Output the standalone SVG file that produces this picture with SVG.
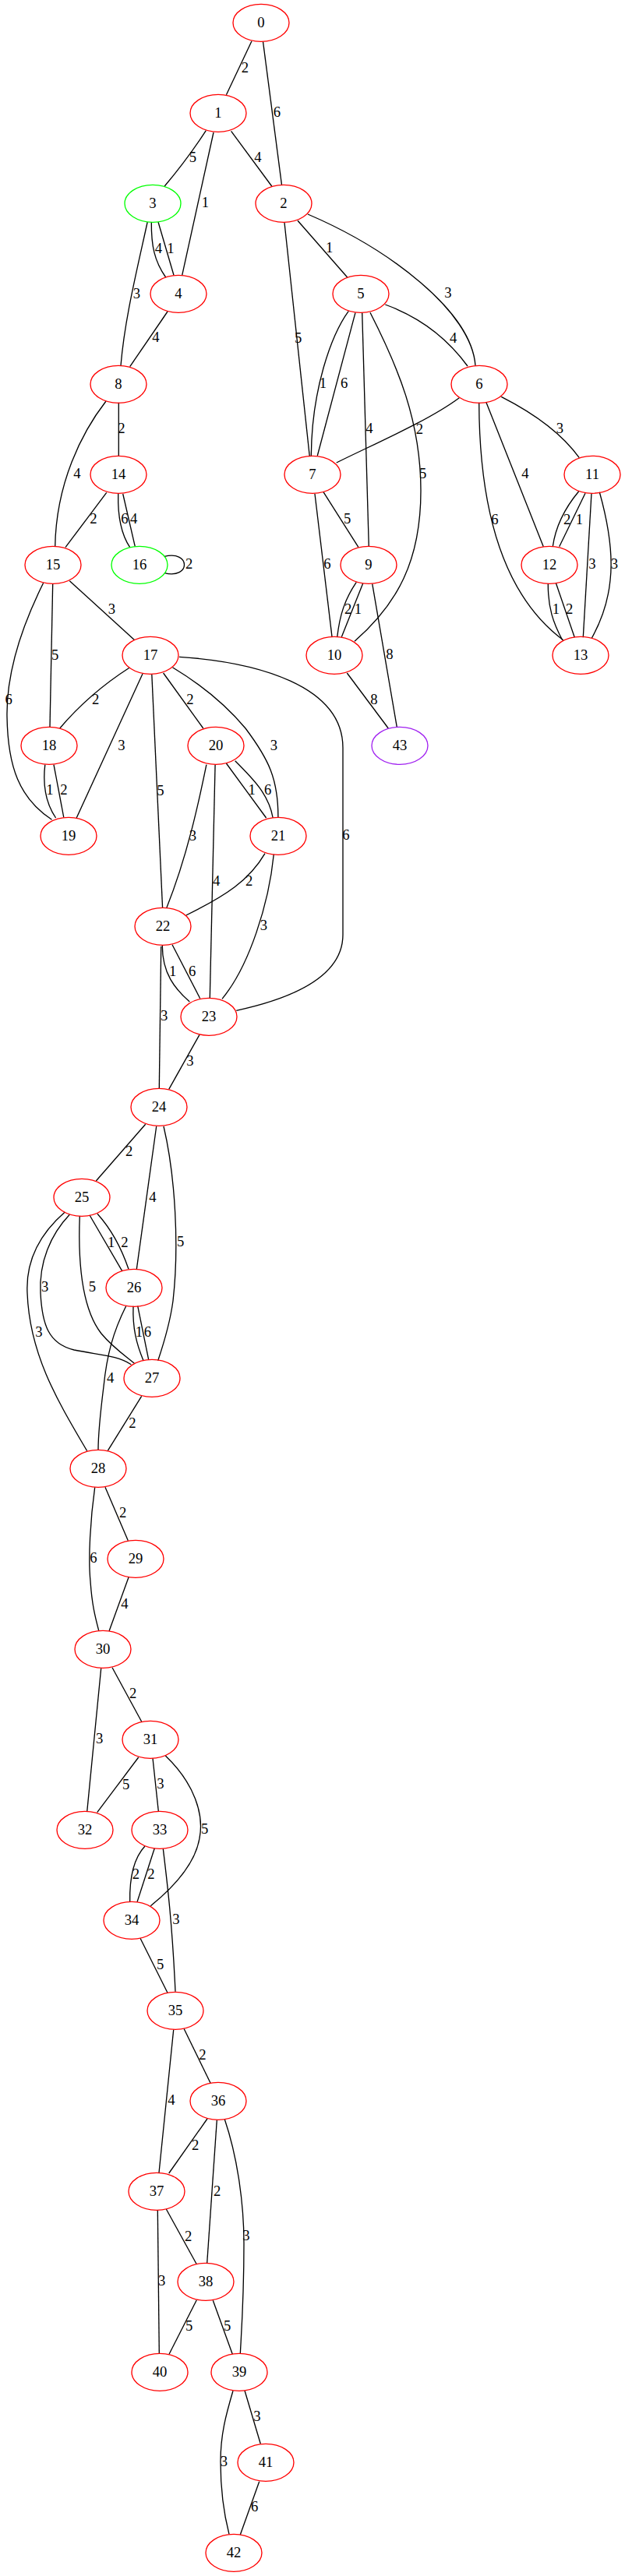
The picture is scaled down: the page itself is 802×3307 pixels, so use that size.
<svg xmlns="http://www.w3.org/2000/svg" width="802" height="3307" viewBox="0 0 802 3307">
<style>
.n ellipse{fill:none;stroke-width:1.33}
.r ellipse{stroke:#ff0000}
.g ellipse{stroke:#00ff00}
.p ellipse{stroke:#a020f0}
text{font-family:"Liberation Serif","Times New Roman",serif;font-size:18.67px;text-anchor:middle;fill:#000}
#edges path{fill:none;stroke:#000;stroke-width:1.33}
</style>
<rect x="0" y="0" width="802" height="3307" fill="#fff"/>
<g id="edges">
<g id="e0_1"><path d="M323,52.7 L290.4,121.7"/><text x="314.5" y="92.7">2</text></g>
<g id="e0_2"><path d="M337.5,53.3 L361.5,237.3"/><text x="355.4" y="150.3">6</text></g>
<g id="e1_3"><path d="M264.3,167.7 Q240,205 211.2,239"/><text x="247.5" y="208.3">5</text></g>
<g id="e1_4"><path d="M274,170 L233.7,353.3"/><text x="263.3" y="266">1</text></g>
<g id="e1_2"><path d="M296.6,168.3 L348.7,239"/><text x="330.8" y="208.3">4</text></g>
<g id="e3_4a"><path d="M194.3,285 C194,315 198,335 212.7,356"/><text x="203.5" y="325">4</text></g>
<g id="e3_4b"><path d="M203,285 L223,353.3"/><text x="218.8" y="325">1</text></g>
<g id="e3_8"><path d="M189.2,285 C175,350 160,410 155,469.3"/><text x="175.4" y="382.7">3</text></g>
<g id="e2_7"><path d="M365,285.7 L397.3,586"/><text x="382.7" y="440">5</text></g>
<g id="e2_5"><path d="M382,283.3 L445.7,356"/><text x="422.7" y="324.3">1</text></g>
<g id="e2_6"><path d="M395,275 C500,320 605,400 610,469.3"/><text x="575" y="382">3</text></g>
<g id="e4_8"><path d="M215,400 L166.7,470.7"/><text x="200" y="439.3">4</text></g>
<g id="e5_7a"><path d="M447.3,399.3 C425,430 400,500 399.3,585"/><text x="414.3" y="498.3">1</text></g>
<g id="e5_7b"><path d="M456,401.3 L407.3,585"/><text x="441.7" y="498.3">6</text></g>
<g id="e5_9"><path d="M464.7,401.3 L473.3,701.7"/><text x="474" y="556">4</text></g>
<g id="e5_10"><path d="M475,401.3 C510,470 540,540 540,630 C540,720 510,775 455,823.3"/><text x="542.7" y="614.3">5</text></g>
<g id="e5_6"><path d="M494.3,391 Q560,415 600,470"/><text x="581.7" y="440">4</text></g>
<g id="e6_7"><path d="M589.3,510.7 C550,540 480,570 431.7,594"/><text x="538.3" y="556.7">2</text></g>
<g id="e6_11"><path d="M643.3,509.3 C680,528 720,555 743.3,587.7"/><text x="718.3" y="556">3</text></g>
<g id="e6_12"><path d="M624,516.7 L697.3,701.7"/><text x="674" y="614.3">4</text></g>
<g id="e6_13"><path d="M614.7,516.7 C615,640 640,760 722.7,821.7"/><text x="635" y="672.7">6</text></g>
<g id="e7_9"><path d="M415,631.7 L460,702.7"/><text x="445.7" y="672">5</text></g>
<g id="e7_10"><path d="M404,634 L426,817.3"/><text x="420" y="730">6</text></g>
<g id="e9_10a"><path d="M457.3,747.3 C442,770 436,790 432.7,817.7"/><text x="446.7" y="787.7">2</text></g>
<g id="e9_10b"><path d="M465.7,749 L438.3,817.7"/><text x="459.3" y="787.7">1</text></g>
<g id="e9_43"><path d="M477.7,749.3 L509.3,933.3"/><text x="500" y="846">8</text></g>
<g id="e10_43"><path d="M445.3,864 L498.3,935"/><text x="480" y="904.3">8</text></g>
<g id="e11_12a"><path d="M742.7,630.7 C725,652 713,675 709.3,701.7"/><text x="727.7" y="672.7">2</text></g>
<g id="e11_12b"><path d="M751,633.3 L717.7,701.7"/><text x="743.3" y="672.7">1</text></g>
<g id="e11_13a"><path d="M759,633.3 L748.3,818.3"/><text x="760" y="730">3</text></g>
<g id="e11_13b"><path d="M769.3,631.7 C780,670 787,710 783,745 C780,775 770,800 759.3,819.3"/><text x="788.3" y="730">3</text></g>
<g id="e12_13a"><path d="M703.3,749 C703,780 710,800 721.7,821.7"/><text x="713.3" y="787.7">1</text></g>
<g id="e12_13b"><path d="M713.3,748.3 L737.3,818.3"/><text x="730.7" y="787.7">2</text></g>
<g id="e8_14"><path d="M152.3,516.7 L152.3,585"/><text x="156" y="556">2</text></g>
<g id="e8_15"><path d="M136,515 C105,555 72,620 70.7,701.7"/><text x="99" y="614.3">4</text></g>
<g id="e14_15"><path d="M136.7,632.3 L84,702.7"/><text x="120" y="672">2</text></g>
<g id="e14_16a"><path d="M151.7,634 C151,660 155,685 166.7,702.7"/><text x="160" y="672">6</text></g>
<g id="e14_16b"><path d="M157.7,634 L173.3,701.7"/><text x="171.7" y="672">4</text></g>
<g id="e16_16"><path d="M211,714.3 C245,706 245,744 211,735.7"/><text x="242.7" y="730.3">2</text></g>
<g id="e15_17"><path d="M89.3,745.7 L172.7,821.7"/><text x="143.3" y="787.7">3</text></g>
<g id="e15_18"><path d="M67.7,749.3 L64,933.3"/><text x="70.6" y="846.7">5</text></g>
<g id="e15_19"><path d="M55.7,748.3 C30,800 8,860 9,920 C10,985 25,1025 66.5,1052.3"/><text x="11.2" y="904.3">6</text></g>
<g id="e17_18"><path d="M166,857.3 Q115,890 76.7,935"/><text x="122.7" y="904.3">2</text></g>
<g id="e17_19"><path d="M183,865 L98.2,1050"/><text x="156" y="962.7">3</text></g>
<g id="e17_22"><path d="M194.8,865.7 L208.6,1165.7"/><text x="206" y="1021">5</text></g>
<g id="e17_20"><path d="M209.6,864 L260.8,935"/><text x="243.9" y="904.3">2</text></g>
<g id="e17_21"><path d="M221.4,856.7 C260,880 290,905 315,935 C345,975 357,1000 356.9,1049.3"/><text x="351.3" y="962.7">3</text></g>
<g id="e17_23"><path d="M230,843.3 C330,850 440,880 440,960 L440,1200 C440,1260 360,1285 303.3,1297.3"/><text x="443.8" y="1078.3">6</text></g>
<g id="e18_19a"><path d="M57.8,981.7 C55,1005 58,1030 71.6,1050"/><text x="63.9" y="1020.3">1</text></g>
<g id="e18_19b"><path d="M69,981.7 L81.8,1049.3"/><text x="81.8" y="1020.3">2</text></g>
<g id="e20_22"><path d="M264.9,981.7 C255,1030 240,1100 213.7,1165.7"/><text x="247.5" y="1078.7">3</text></g>
<g id="e20_23"><path d="M276.1,981.7 L269.3,1281"/><text x="277.6" y="1137">4</text></g>
<g id="e20_21a"><path d="M290.4,980 L341.6,1050"/><text x="323.2" y="1020.3">1</text></g>
<g id="e20_21b"><path d="M301.7,976.7 C325,1000 345,1020 350.2,1050"/><text x="343.6" y="1020.3">6</text></g>
<g id="e21_22"><path d="M340,1095.7 C320,1130 290,1150 238.8,1175"/><text x="319.6" y="1137">2</text></g>
<g id="e21_23"><path d="M351.3,1096.7 C345,1160 320,1240 285,1282.3"/><text x="338.5" y="1193.7">3</text></g>
<g id="e22_23a"><path d="M208.3,1213.3 C208,1250 225,1270 243.3,1286"/><text x="221.7" y="1252.7">1</text></g>
<g id="e22_23b"><path d="M221,1212.7 L256.7,1281.7"/><text x="246.7" y="1252.7">6</text></g>
<g id="e22_24"><path d="M206.7,1215 L204.3,1397.7"/><text x="210.7" y="1310.3">3</text></g>
<g id="e23_24"><path d="M256,1328.3 L216.7,1398.3"/><text x="244" y="1368.3">3</text></g>
<g id="e24_25"><path d="M186.7,1443.3 L123.3,1516"/><text x="165.7" y="1484.3">2</text></g>
<g id="e24_26"><path d="M200.7,1446 L175.3,1629.3"/><text x="196" y="1542.7">4</text></g>
<g id="e24_27"><path d="M210,1446 C225,1510 230,1600 222,1670 C218,1700 210,1725 202.7,1746.7"/><text x="231.7" y="1600.3">5</text></g>
<g id="e25_26a"><path d="M115,1560 L156.7,1631.7"/><text x="142.7" y="1601">1</text></g>
<g id="e25_26b"><path d="M125,1558.3 C140,1575 155,1600 165,1629.3"/><text x="160" y="1601">2</text></g>
<g id="e25_27a"><path d="M102.3,1561 C100,1620 105,1680 130,1712 C145,1730 160,1740 172.3,1750"/><text x="118.3" y="1658.3">5</text></g>
<g id="e25_27b"><path d="M89.3,1559.3 C65,1585 50,1620 52,1660 C54,1700 62,1725 95,1733 C130,1740 150,1740 168.3,1751.7"/><text x="57.7" y="1658.3">3</text></g>
<g id="e25_28"><path d="M83.3,1556 C50,1585 33,1620 35,1660 C38,1740 75,1800 111.7,1862.7"/><text x="50" y="1716">3</text></g>
<g id="e26_27a"><path d="M171,1676.7 C170,1705 175,1725 184,1746.7"/><text x="178.3" y="1716">1</text></g>
<g id="e26_27b"><path d="M176.7,1676.7 L190.7,1745.7"/><text x="189.3" y="1716">6</text></g>
<g id="e26_28"><path d="M161.7,1676.7 C145,1710 137,1740 133,1780 C128,1820 126,1840 126,1861.7"/><text x="141.7" y="1775">4</text></g>
<g id="e27_28"><path d="M181.7,1792.3 L138.3,1862.3"/><text x="170" y="1832.7">2</text></g>
<g id="e28_29"><path d="M135,1909.3 L164.3,1977.7"/><text x="157.7" y="1948.3">2</text></g>
<g id="e28_30"><path d="M121.7,1909.3 C116,1950 113,2000 116,2030 C118,2060 122,2075 126.7,2093.3"/><text x="120" y="2006">6</text></g>
<g id="e29_30"><path d="M165,2025 L140,2094"/><text x="160" y="2065">4</text></g>
<g id="e30_31"><path d="M144,2140.7 L182,2210.7"/><text x="170.7" y="2180">2</text></g>
<g id="e30_32"><path d="M129.7,2141.7 L111.7,2325.7"/><text x="127.7" y="2237.7">3</text></g>
<g id="e31_32"><path d="M177.7,2256 L124.7,2326.7"/><text x="161.7" y="2296.7">5</text></g>
<g id="e31_33"><path d="M196,2257.3 L203.3,2325"/><text x="206" y="2296">3</text></g>
<g id="e31_34"><path d="M212.3,2254 C250,2290 262,2330 256,2360 C250,2395 220,2425 193.3,2446.7"/><text x="262.7" y="2353.7">5</text></g>
<g id="e33_34a"><path d="M186,2370 C172,2385 166,2410 166.7,2441.7"/><text x="174.3" y="2412">2</text></g>
<g id="e33_34b"><path d="M198.3,2372.7 L176,2441.7"/><text x="194" y="2412">2</text></g>
<g id="e33_35"><path d="M209.3,2373.3 C215,2420 221,2470 225,2556.7"/><text x="226" y="2470">3</text></g>
<g id="e34_35"><path d="M180,2488.3 L215,2558.3"/><text x="205.7" y="2527.7">5</text></g>
<g id="e35_36"><path d="M236,2604.3 L270,2674"/><text x="260" y="2644.3">2</text></g>
<g id="e35_37"><path d="M222.7,2605.7 L204,2789.3"/><text x="220" y="2702">4</text></g>
<g id="e36_37"><path d="M266,2720 L216.7,2790"/><text x="250.7" y="2760.3">2</text></g>
<g id="e36_38"><path d="M278.3,2721.7 L265.7,2905"/><text x="278.7" y="2819.3">2</text></g>
<g id="e36_39"><path d="M288.3,2720.7 C305,2770 313,2830 313,2880 C313,2950 310,2990 308.3,3021.7"/><text x="316" y="2876">3</text></g>
<g id="e37_38"><path d="M213.3,2836 L252.3,2906.7"/><text x="241.7" y="2876.7">2</text></g>
<g id="e37_40"><path d="M202.3,2837.3 L204.3,3021.7"/><text x="207.7" y="2934.3">3</text></g>
<g id="e38_40"><path d="M252.3,2952.7 L217,3022.3"/><text x="242.7" y="2992">5</text></g>
<g id="e38_39"><path d="M273.3,2953.3 L298.3,3022.3"/><text x="291.7" y="2992">5</text></g>
<g id="e39_41"><path d="M314,3069 L334.3,3137.3"/><text x="330" y="3108.3">3</text></g>
<g id="e39_42"><path d="M299,3069.3 C290,3100 283,3125 283,3160 C283,3200 288,3230 294,3253.3"/><text x="287.3" y="3166">3</text></g>
<g id="e41_42"><path d="M332.7,3185.7 L308.3,3254"/><text x="326.7" y="3224.3">6</text></g>
</g>
<g id="nodes">
<g id="n0" class="n r"><ellipse cx="335" cy="29.3" rx="36" ry="24"/><text x="335" y="35.3">0</text></g>
<g id="n1" class="n r"><ellipse cx="280" cy="145.3" rx="36" ry="24"/><text x="280" y="151.3">1</text></g>
<g id="n2" class="n r"><ellipse cx="364" cy="261.3" rx="36" ry="24"/><text x="364" y="267.3">2</text></g>
<g id="n3" class="n g"><ellipse cx="196" cy="261.3" rx="36" ry="24"/><text x="196" y="267.3">3</text></g>
<g id="n4" class="n r"><ellipse cx="229" cy="377.3" rx="36" ry="24"/><text x="229" y="383.3">4</text></g>
<g id="n5" class="n r"><ellipse cx="463" cy="377.3" rx="36" ry="24"/><text x="463" y="383.3">5</text></g>
<g id="n6" class="n r"><ellipse cx="615" cy="493.3" rx="36" ry="24"/><text x="615" y="499.3">6</text></g>
<g id="n7" class="n r"><ellipse cx="401" cy="609.3" rx="36" ry="24"/><text x="401" y="615.3">7</text></g>
<g id="n8" class="n r"><ellipse cx="152" cy="493.3" rx="36" ry="24"/><text x="152" y="499.3">8</text></g>
<g id="n9" class="n r"><ellipse cx="473" cy="725.3" rx="36" ry="24"/><text x="473" y="731.3">9</text></g>
<g id="n10" class="n r"><ellipse cx="429" cy="841.3" rx="36" ry="24"/><text x="429" y="847.3">10</text></g>
<g id="n11" class="n r"><ellipse cx="760" cy="609.3" rx="36" ry="24"/><text x="760" y="615.3">11</text></g>
<g id="n12" class="n r"><ellipse cx="705" cy="725.3" rx="36" ry="24"/><text x="705" y="731.3">12</text></g>
<g id="n13" class="n r"><ellipse cx="745" cy="841.3" rx="36" ry="24"/><text x="745" y="847.3">13</text></g>
<g id="n14" class="n r"><ellipse cx="152" cy="609.3" rx="36" ry="24"/><text x="152" y="615.3">14</text></g>
<g id="n15" class="n r"><ellipse cx="68" cy="725.3" rx="36" ry="24"/><text x="68" y="731.3">15</text></g>
<g id="n16" class="n g"><ellipse cx="179" cy="725.3" rx="36" ry="24"/><text x="179" y="731.3">16</text></g>
<g id="n17" class="n r"><ellipse cx="193" cy="841.3" rx="36" ry="24"/><text x="193" y="847.3">17</text></g>
<g id="n18" class="n r"><ellipse cx="63" cy="957.3" rx="36" ry="24"/><text x="63" y="963.3">18</text></g>
<g id="n19" class="n r"><ellipse cx="88" cy="1073.3" rx="36" ry="24"/><text x="88" y="1079.3">19</text></g>
<g id="n20" class="n r"><ellipse cx="277" cy="957.3" rx="36" ry="24"/><text x="277" y="963.3">20</text></g>
<g id="n21" class="n r"><ellipse cx="357" cy="1073.3" rx="36" ry="24"/><text x="357" y="1079.3">21</text></g>
<g id="n22" class="n r"><ellipse cx="209" cy="1189.3" rx="36" ry="24"/><text x="209" y="1195.3">22</text></g>
<g id="n23" class="n r"><ellipse cx="268" cy="1305.3" rx="36" ry="24"/><text x="268" y="1311.3">23</text></g>
<g id="n24" class="n r"><ellipse cx="204" cy="1421.3" rx="36" ry="24"/><text x="204" y="1427.3">24</text></g>
<g id="n25" class="n r"><ellipse cx="105" cy="1537.3" rx="36" ry="24"/><text x="105" y="1543.3">25</text></g>
<g id="n26" class="n r"><ellipse cx="172" cy="1653.3" rx="36" ry="24"/><text x="172" y="1659.3">26</text></g>
<g id="n27" class="n r"><ellipse cx="195" cy="1769.3" rx="36" ry="24"/><text x="195" y="1775.3">27</text></g>
<g id="n28" class="n r"><ellipse cx="126" cy="1885.3" rx="36" ry="24"/><text x="126" y="1891.3">28</text></g>
<g id="n29" class="n r"><ellipse cx="174" cy="2001.3" rx="36" ry="24"/><text x="174" y="2007.3">29</text></g>
<g id="n30" class="n r"><ellipse cx="132" cy="2117.3" rx="36" ry="24"/><text x="132" y="2123.3">30</text></g>
<g id="n31" class="n r"><ellipse cx="193" cy="2233.3" rx="36" ry="24"/><text x="193" y="2239.3">31</text></g>
<g id="n32" class="n r"><ellipse cx="109" cy="2349.3" rx="36" ry="24"/><text x="109" y="2355.3">32</text></g>
<g id="n33" class="n r"><ellipse cx="205" cy="2349.3" rx="36" ry="24"/><text x="205" y="2355.3">33</text></g>
<g id="n34" class="n r"><ellipse cx="169" cy="2465.3" rx="36" ry="24"/><text x="169" y="2471.3">34</text></g>
<g id="n35" class="n r"><ellipse cx="225" cy="2581.3" rx="36" ry="24"/><text x="225" y="2587.3">35</text></g>
<g id="n36" class="n r"><ellipse cx="280" cy="2697.3" rx="36" ry="24"/><text x="280" y="2703.3">36</text></g>
<g id="n37" class="n r"><ellipse cx="201" cy="2813.3" rx="36" ry="24"/><text x="201" y="2819.3">37</text></g>
<g id="n38" class="n r"><ellipse cx="264" cy="2929.3" rx="36" ry="24"/><text x="264" y="2935.3">38</text></g>
<g id="n39" class="n r"><ellipse cx="307" cy="3045.3" rx="36" ry="24"/><text x="307" y="3051.3">39</text></g>
<g id="n40" class="n r"><ellipse cx="205" cy="3045.3" rx="36" ry="24"/><text x="205" y="3051.3">40</text></g>
<g id="n41" class="n r"><ellipse cx="341" cy="3161.3" rx="36" ry="24"/><text x="341" y="3167.3">41</text></g>
<g id="n42" class="n r"><ellipse cx="300" cy="3277.3" rx="36" ry="24"/><text x="300" y="3283.3">42</text></g>
<g id="n43" class="n p"><ellipse cx="513" cy="957.3" rx="36" ry="24"/><text x="513" y="963.3">43</text></g>
</g>
</svg>
